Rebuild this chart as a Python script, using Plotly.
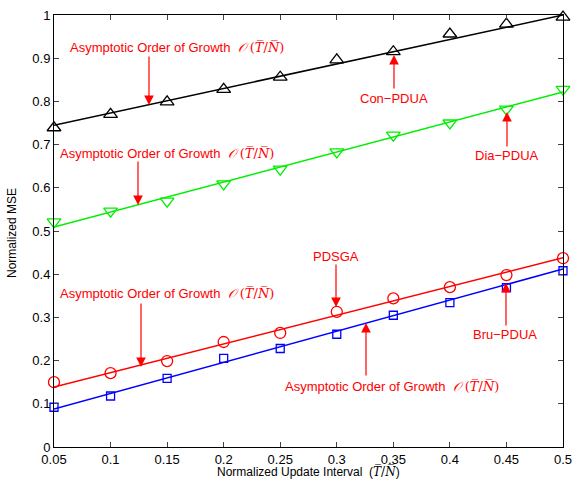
import plotly.graph_objects as go

x_vals = [0.05, 0.1, 0.15, 0.2, 0.25, 0.3, 0.35, 0.4, 0.45, 0.5]
con_pdua = [0.739, 0.770, 0.799, 0.828, 0.856, 0.896, 0.915, 0.956, 0.979, 0.995]
dia_pdua = [0.521, 0.546, 0.569, 0.609, 0.643, 0.683, 0.722, 0.750, 0.782, 0.828]
pdsga = [0.150, 0.171, 0.199, 0.243, 0.264, 0.313, 0.344, 0.370, 0.398, 0.437]
bru_pdua = [0.092, 0.118, 0.159, 0.205, 0.228, 0.261, 0.305, 0.334, 0.369, 0.408]

fit_x = [0.05, 0.5]
con_fit = [0.745, 1.0]
dia_fit = [0.509, 0.822]
pdsga_fit = [0.139, 0.438]
bru_fit = [0.088, 0.412]

x_ticks = [0.05, 0.1, 0.15, 0.2, 0.25, 0.3, 0.35, 0.4, 0.45, 0.5]
y_ticks = [0, 0.1, 0.2, 0.3, 0.4, 0.5, 0.6, 0.7, 0.8, 0.9, 1]

RED = "#FF0000"
FONT = "Liberation Sans, Arial, sans-serif"
MATH = ("<span style='font-family:DejaVu Serif, serif'><i>𝒪</i> (<i>T̅</i>/<i>N̅</i>)</span>")
ORDER = "Asymptotic Order of Growth  " + MATH

fig = go.Figure()
series = [
    (con_fit, con_pdua, "black", "triangle-up-open", 12),
    (dia_fit, dia_pdua, "#00EE00", "triangle-down-open", 12),
    (pdsga_fit, pdsga, RED, "circle-open", 11),
    (bru_fit, bru_pdua, "#0000FF", "square-open", 8),
]
for fit, vals, col, sym, sz in series:
    fig.add_trace(go.Scatter(x=fit_x, y=fit, mode="lines", cliponaxis=False,
                             line=dict(color=col, width=1.5), showlegend=False))
    fig.add_trace(go.Scatter(x=x_vals, y=vals, mode="markers", cliponaxis=False,
                             marker=dict(symbol=sym, size=sz, color=col,
                                         line=dict(color=col, width=1.3)),
                             showlegend=False))

# plot area in pixels: x 54..563, y 15..447
def px_to_px(p):
    return (p - 54) / 509

def py_to_py(p):
    return (447 - p) / 432

def px_to_x(p):
    return 0.05 + (p - 54) / 509 * 0.45

def py_to_y(p):
    return (447 - p) / 432

annotations = []
labels = [
    (ORDER, 68, 47, "left"),
    (ORDER, 58, 153, "left"),
    ("Con\u2212PDUA", 394, 98, "center"),
    ("Dia\u2212PDUA", 507, 156, "center"),
    ("PDSGA", 336, 256, "center"),
    ("Bru\u2212PDUA", 505, 334, "center"),
    (ORDER, 58, 293, "left"),
    (ORDER, 283, 386, "left"),
]
for t, px, py, anc in labels:
    annotations.append(dict(x=px_to_px(px), y=py_to_py(py), text=t, showarrow=False,
                            xanchor=anc, yanchor="middle",
                            font=dict(color=RED, size=13, family=FONT),
                            xref="paper", yref="paper"))
arrows = [
    (149, 55, 149, 105),
    (138, 160, 138, 205),
    (394, 90, 394, 55),
    (507, 148, 507, 112),
    (336, 263, 336, 307),
    (506, 327, 506, 283),
    (141, 302, 141, 367),
    (366, 377, 366, 323),
]
for tx, ty, hx, hy in arrows:
    annotations.append(dict(x=px_to_x(hx), y=py_to_y(hy), ax=px_to_x(tx), ay=py_to_y(ty),
                            axref="x", ayref="y", xref="x", yref="y", text="",
                            showarrow=True, arrowhead=2, arrowsize=1.6, arrowwidth=1.2,
                            arrowcolor=RED))

# axis titles
annotations.append(dict(x=px_to_px(308), y=py_to_py(471), xref="paper", yref="paper",
                        text="Normalized Update Interval  (" +
                        "<span style='font-family:DejaVu Serif, serif'><i>T̅</i>/<i>N̅</i></span>)",
                        xanchor="center", yanchor="middle", showarrow=False,
                        font=dict(size=12, family=FONT, color="black")))
annotations.append(dict(x=px_to_px(12), y=py_to_py(233), xref="paper", yref="paper",
                        text="Normalized MSE", textangle=-90, showarrow=False,
                        xanchor="center", yanchor="middle",
                        font=dict(size=12, family=FONT, color="black")))

fig.update_layout(
    width=581, height=481,
    margin=dict(l=54, r=18, t=15, b=34, autoexpand=False),
    paper_bgcolor="white", plot_bgcolor="white",
    font=dict(family=FONT, size=13, color="black"),
    annotations=annotations,
    xaxis=dict(range=[0.05, 0.5], tickvals=x_ticks,
               ticktext=[f"{v:g}" for v in x_ticks],
               ticks="inside", ticklen=5, mirror="ticks", showline=True,
               linecolor="black", linewidth=1, showgrid=False, zeroline=False,
               tickfont=dict(size=13), automargin=False),
    yaxis=dict(range=[0, 1], tickvals=y_ticks,
               ticktext=[f"{v:g}" for v in y_ticks],
               ticks="inside", ticklen=5, mirror="ticks", showline=True,
               linecolor="black", linewidth=1, showgrid=False, zeroline=False,
               tickfont=dict(size=13), automargin=False),
)

fig.write_html("out.html", config={"displayModeBar": False},
               post_script="document.body.style.margin='0';")
